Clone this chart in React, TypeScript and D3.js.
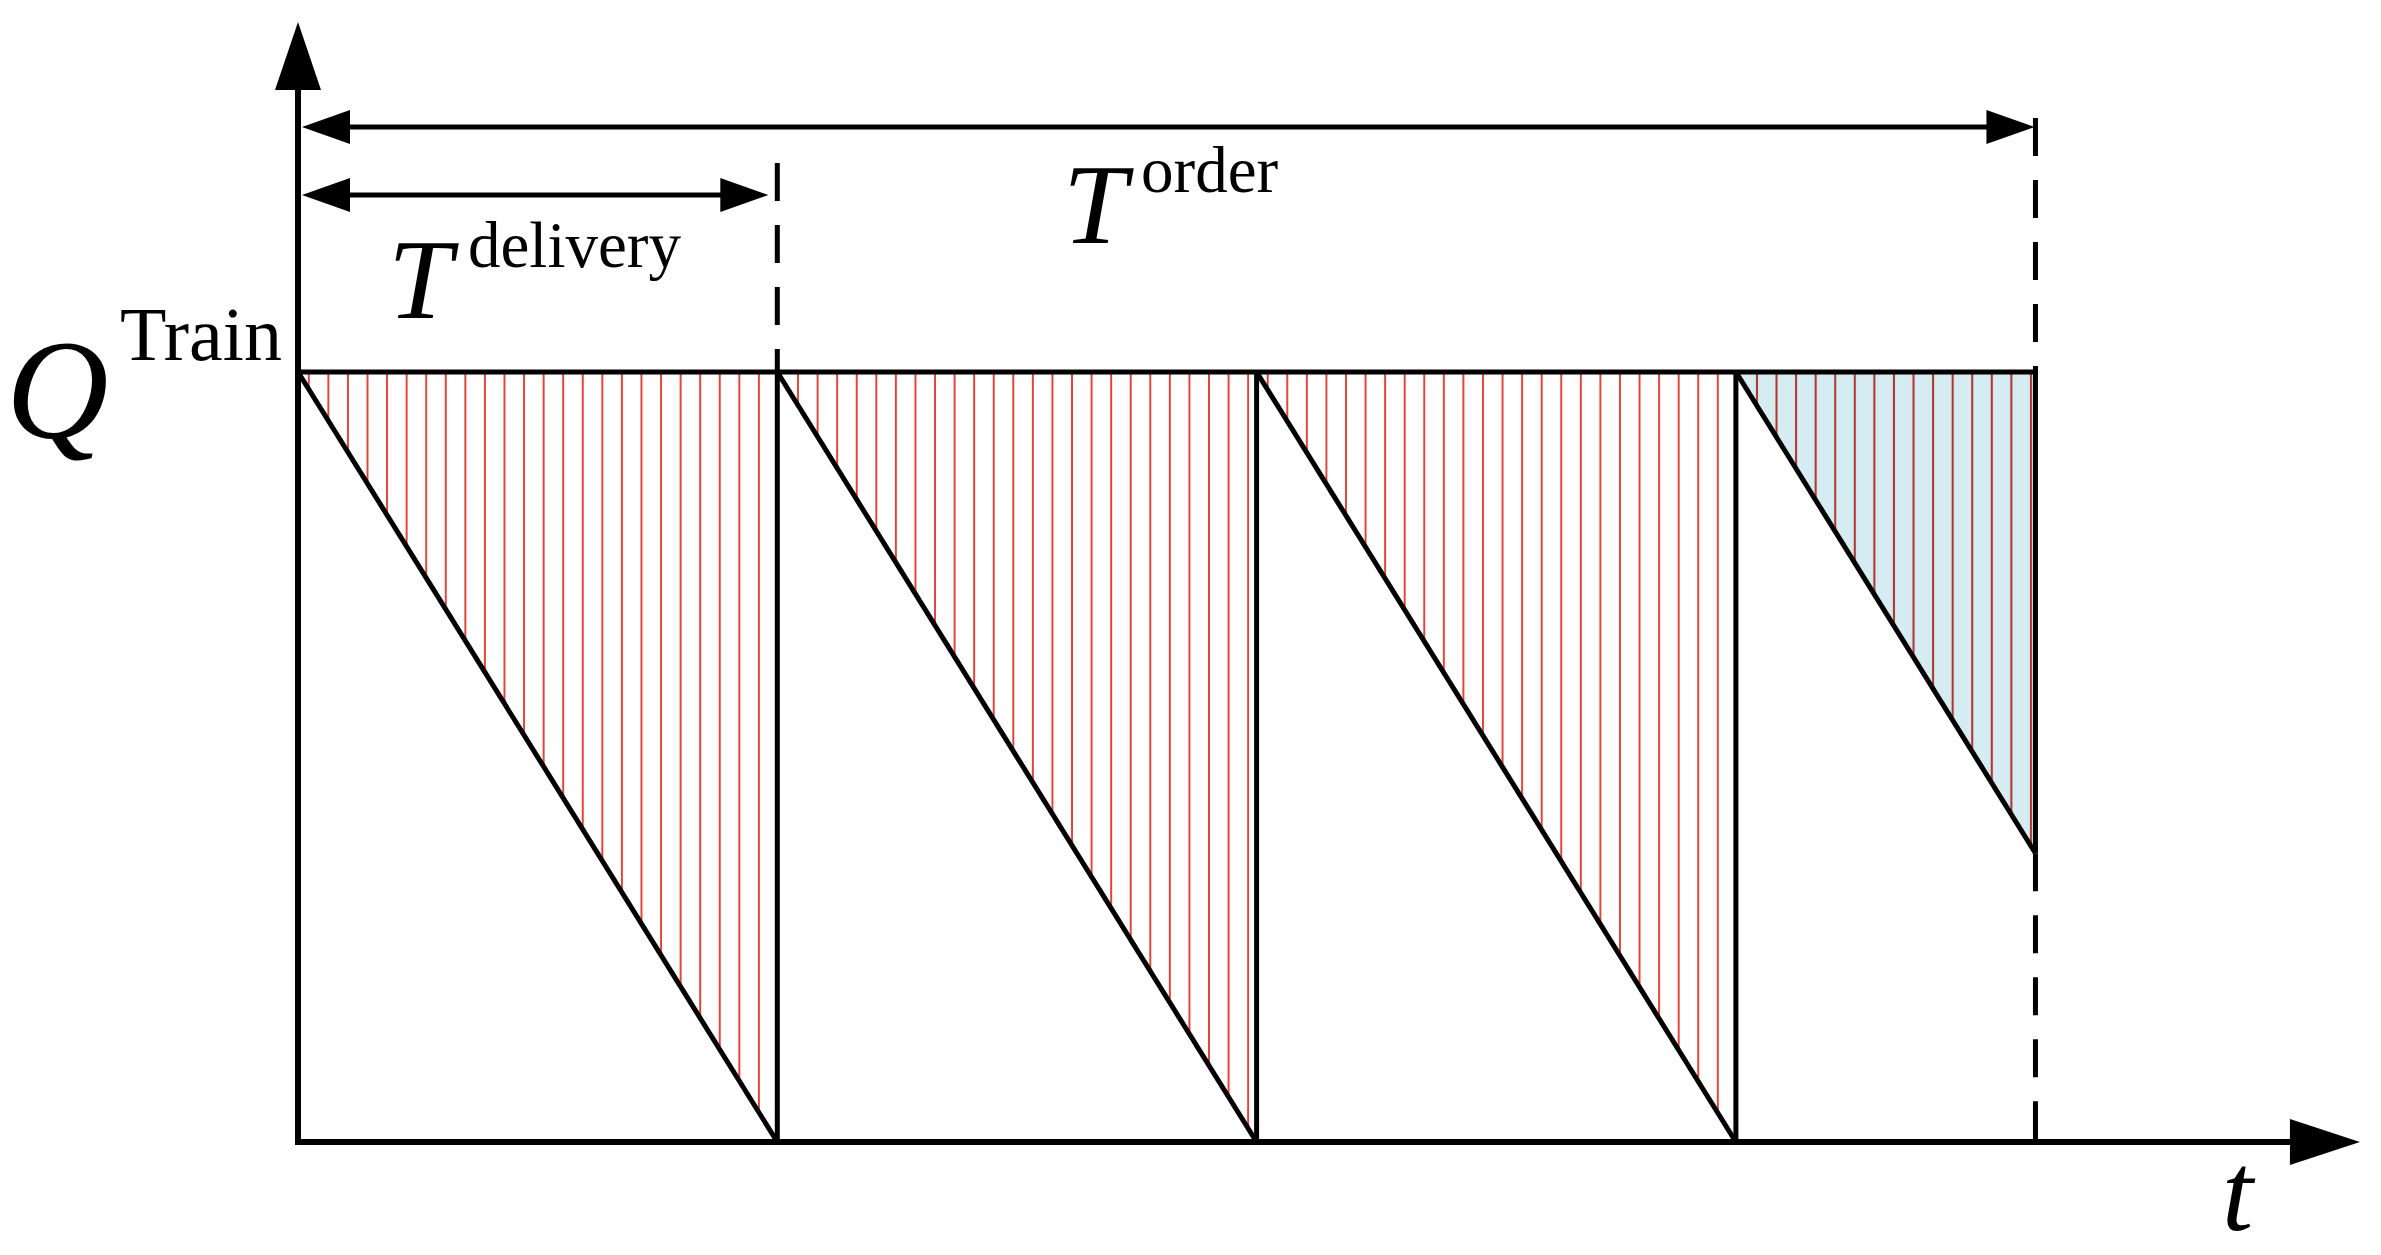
import React from "react";
import * as d3 from "d3";

// ---- data (time in units of the delivery period, inventory as share of Q^Train) ----
const deliveryStarts = [0, 1, 2, 3];
const deliveryPeriod = 1;
const orderHorizon = 3.625;
const qTrain = 1;
const tAxisEnd = 4.302;
const qAxisEnd = 1.4545;
const hatchSpacing = 0.04083;

const W = 2381;
const H = 1255;

export default function App() {
  const x = d3.scaleLinear().domain([0, 1]).range([298, 777.3]);
  const y = d3.scaleLinear().domain([0, 1]).range([1142, 372]);

  const x0 = x(0);
  const y0 = y(0);
  const yQ = y(qTrain);
  const xEnd = x(orderHorizon);

  // inventory level at the end of each (possibly truncated) cycle
  const cycles = deliveryStarts.map((s) => {
    const e = Math.min(s + deliveryPeriod, orderHorizon);
    const level = qTrain * (1 - (e - s) / deliveryPeriod);
    return { s, e, level, partial: e < s + deliveryPeriod };
  });

  const line = d3.line<[number, number]>().x((d) => x(d[0])).y((d) => y(d[1]));
  const hatchPx = x(hatchSpacing) - x(0);

  const font = "'Liberation Serif', 'Times New Roman', serif";
  const arrowH = (tipX: number, tipY: number, dir: number, len = 48, half = 17) =>
    `M${tipX},${tipY} L${tipX - dir * len},${tipY - half} L${tipX - dir * len},${tipY + half} Z`;
  const arrowV = (tipX: number, tipY: number, len = 68, half = 23) =>
    `M${tipX},${tipY} L${tipX - half},${tipY + len} L${tipX + half},${tipY + len} Z`;

  const dash = "38 24";
  const yOrder = 127;
  const yDel = 195;

  return (
    <div style={{ position: "absolute", left: 0, top: 0, background: "#fff" }}>
      <svg width={W} height={H} viewBox={`0 0 ${W} ${H}`} style={{ display: "block" }}>
        <defs>
          <pattern id="hatchRed" patternUnits="userSpaceOnUse" x={x0 + 1} y={0} width={hatchPx} height={H}>
            <line x1={hatchPx / 2} x2={hatchPx / 2} y1={0} y2={H} stroke="#e0463c" strokeWidth={2} />
          </pattern>
          <pattern id="hatchDark" patternUnits="userSpaceOnUse" x={x0 + 1} y={0} width={hatchPx} height={H}>
            <line x1={hatchPx / 2} x2={hatchPx / 2} y1={0} y2={H} stroke="#b0362f" strokeWidth={2.1} />
          </pattern>
        </defs>
        <rect x={0} y={0} width={W} height={H} fill="#fff" />

        {/* shaded areas */}
        {cycles.map((c, i) => {
          const pts: [number, number][] = [
            [c.s, qTrain],
            [c.e, qTrain],
            [c.e, c.level],
          ];
          const d = line(pts) + "Z";
          return (
            <g key={"a" + i}>
              {c.partial && <path d={d} fill="#d5edf2" />}
              <path d={d} fill={c.partial ? "url(#hatchDark)" : "url(#hatchRed)"} />
            </g>
          );
        })}

        {/* top Q line */}
        <line x1={x0} x2={xEnd} y1={yQ} y2={yQ} stroke="#000" strokeWidth={5} />

        {/* diagonals & replenishment jumps */}
        {cycles.map((c, i) => (
          <g key={"c" + i}>
            <path d={line([[c.s, qTrain], [c.e, c.level]]) || ""} stroke="#000" strokeWidth={5} fill="none" />
            <line x1={x(c.e)} x2={x(c.e)} y1={yQ} y2={y(c.level)} stroke="#000" strokeWidth={5} />
          </g>
        ))}

        {/* dashed guides */}
        <line x1={x(deliveryPeriod)} x2={x(deliveryPeriod)} y1={163} y2={yQ} stroke="#000" strokeWidth={5} strokeDasharray={dash} />
        <line x1={xEnd} x2={xEnd} y1={118} y2={yQ} stroke="#000" strokeWidth={5} strokeDasharray={dash} />
        <line x1={xEnd} x2={xEnd} y1={y(cycles[cycles.length - 1].level)} y2={y0} stroke="#000" strokeWidth={5} strokeDasharray={dash} />

        {/* axes */}
        <line x1={x0} x2={x0} y1={y0 + 3} y2={y(qAxisEnd) + 60} stroke="#000" strokeWidth={6} />
        <path d={arrowV(x0, y(qAxisEnd))} fill="#000" />
        <line x1={x0 - 3} x2={x(tAxisEnd) - 60} y1={y0} y2={y0} stroke="#000" strokeWidth={6} />
        <path d={arrowH(x(tAxisEnd), y0, 1, 70, 23)} fill="#000" />

        {/* order horizon arrow */}
        <line x1={x0 + 30} x2={xEnd - 30} y1={yOrder} y2={yOrder} stroke="#000" strokeWidth={5} />
        <path d={arrowH(x0 + 4, yOrder, -1)} fill="#000" />
        <path d={arrowH(xEnd - 1, yOrder, 1)} fill="#000" />

        {/* delivery arrow */}
        <line x1={x0 + 30} x2={x(deliveryPeriod) - 30} y1={yDel} y2={yDel} stroke="#000" strokeWidth={5} />
        <path d={arrowH(x0 + 4, yDel, -1)} fill="#000" />
        <path d={arrowH(x(deliveryPeriod) - 9, yDel, 1)} fill="#000" />

        {/* labels */}
        <text x={6} y={438} fontFamily={font} fontStyle="italic" fontSize={142} fill="#000">Q</text>
        <text x={120} y={360} fontFamily={font} fontSize={76} fill="#000">Train</text>

        <text x={388} y={318} fontFamily={font} fontStyle="italic" fontSize={115} fill="#000">T</text>
        <text x={468} y={267} fontFamily={font} fontSize={65} fill="#000">delivery</text>

        <text x={1063} y={243} fontFamily={font} fontStyle="italic" fontSize={115} fill="#000">T</text>
        <text x={1141} y={192} fontFamily={font} fontSize={65} fill="#000">order</text>

        <text x={2222} y={1230} fontFamily={font} fontStyle="italic" fontSize={112} fill="#000">t</text>
      </svg>
    </div>
  );
}
